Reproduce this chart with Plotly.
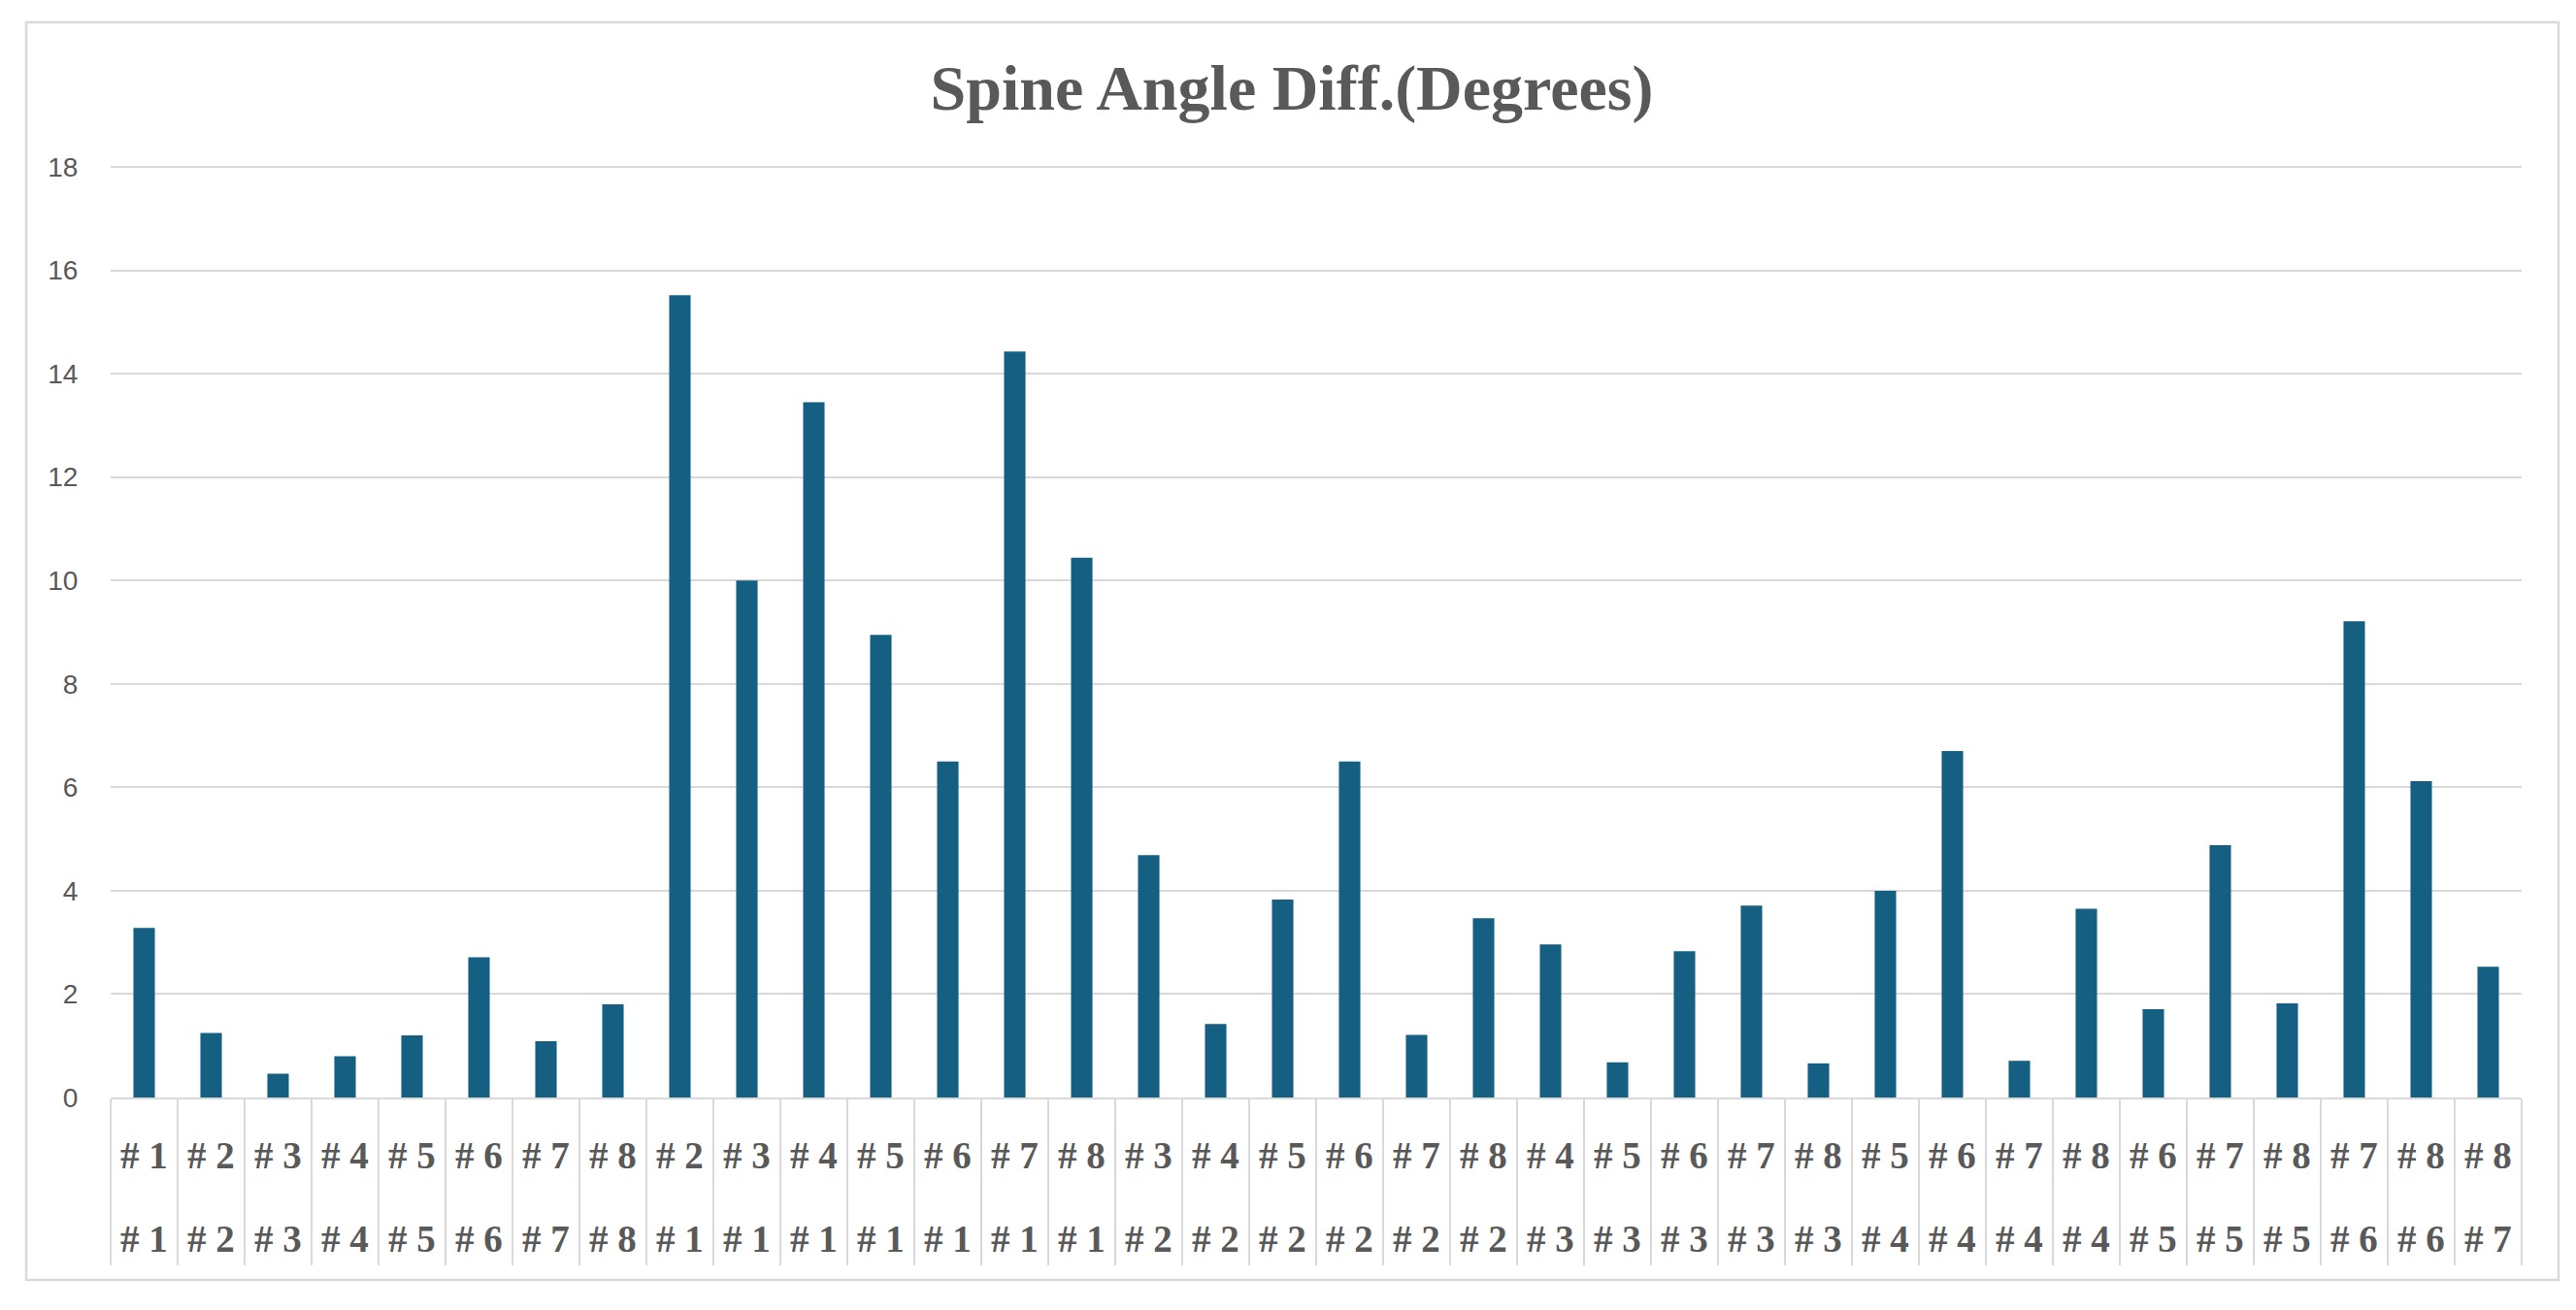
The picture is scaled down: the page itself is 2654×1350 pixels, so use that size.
import plotly.graph_objects as go

# ---- data ----
top_labels = ["# 1", "# 2", "# 3", "# 4", "# 5", "# 6", "# 7", "# 8",
              "# 2", "# 3", "# 4", "# 5", "# 6", "# 7", "# 8",
              "# 3", "# 4", "# 5", "# 6", "# 7", "# 8",
              "# 4", "# 5", "# 6", "# 7", "# 8",
              "# 5", "# 6", "# 7", "# 8",
              "# 6", "# 7", "# 8",
              "# 7", "# 8",
              "# 8"]
bottom_labels = ["# 1", "# 2", "# 3", "# 4", "# 5", "# 6", "# 7", "# 8",
                 "# 1", "# 1", "# 1", "# 1", "# 1", "# 1", "# 1",
                 "# 2", "# 2", "# 2", "# 2", "# 2", "# 2",
                 "# 3", "# 3", "# 3", "# 3", "# 3",
                 "# 4", "# 4", "# 4", "# 4",
                 "# 5", "# 5", "# 5",
                 "# 6", "# 6",
                 "# 7"]
values = [3.28, 1.25, 0.46, 0.80, 1.20, 2.71, 1.09, 1.80,
          15.52, 10.0, 13.45, 8.95, 6.50, 14.43, 10.44,
          4.69, 1.42, 3.83, 6.50, 1.21, 3.47,
          2.96, 0.68, 2.83, 3.71, 0.66,
          4.00, 6.70, 0.71, 3.65,
          1.71, 4.88, 1.82,
          9.21, 6.12,
          2.53]
y_ticks = [0, 2, 4, 6, 8, 10, 12, 14, 16, 18]
title_text = "Spine Angle Diff.(Degrees)"

categories = [f"{t} / {b}" for t, b in zip(top_labels, bottom_labels)]

W, H = 2654, 1350
ML, MR, MT, MB = 114, 56, 170, 219
PW, PH = W - ML - MR, H - MT - MB
Y_TOP = 18 * PH / (1131 - 172)  # leave the 18 gridline just inside the plot

BAR = "#156082"
GRID = "#d9d9d9"
TXT = "#595959"

fig = go.Figure(go.Bar(x=categories, y=values, marker=dict(color=BAR, line=dict(width=0)),
                       hoverinfo="x+y"))

def py(pix):  # pixel y (from top) -> paper y
    return (H - MB - pix) / PH

def px(pix):
    return (pix - ML) / PW

lab_font = dict(family="Liberation Serif", size=39, color=TXT, weight="bold")
annotations = []
for c, t, b in zip(categories, top_labels, bottom_labels):
    annotations.append(dict(x=c, y=py(1190), xref="x", yref="paper", text=t, showarrow=False,
                            yanchor="middle", xanchor="center", font=lab_font))
    annotations.append(dict(x=c, y=py(1276), xref="x", yref="paper", text=b, showarrow=False,
                            yanchor="middle", xanchor="center", font=lab_font))

fig.update_layout(
    width=W, height=H,
    margin=dict(l=ML, r=MR, t=MT, b=MB, pad=0),
    paper_bgcolor="white", plot_bgcolor="white",
    bargap=0.68,
    showlegend=False,
    title=dict(text=title_text, x=1331 / W, xref="container", xanchor="center",
               y=1 - 90 / H, yref="container", yanchor="middle",
               font=dict(family="Liberation Serif", size=66, color=TXT, weight="bold")),
    annotations=annotations,
    shapes=[dict(type="rect", xref="paper", yref="paper",
                 x0=px(27), x1=px(2636), y0=py(1319), y1=py(23),
                 line=dict(color=GRID, width=2.5), fillcolor="rgba(0,0,0,0)", layer="below")],
)

fig.update_xaxes(type="category", showticklabels=False, ticks="outside", tickson="boundaries",
                 ticklen=171, tickwidth=2, tickcolor=GRID, showline=True, linecolor=GRID,
                 linewidth=2, showgrid=False, zeroline=False)
fig.update_yaxes(range=[0, Y_TOP], tickvals=y_ticks, showgrid=True, gridcolor=GRID, gridwidth=2,
                 zeroline=False, showline=False, ticks="outside", ticklen=27,
                 tickcolor="rgba(0,0,0,0)",
                 tickfont=dict(family="Liberation Sans", size=28, color=TXT))

fig.write_html("out.html", config={"displayModeBar": False},
               post_script="document.body.style.margin='0';")
